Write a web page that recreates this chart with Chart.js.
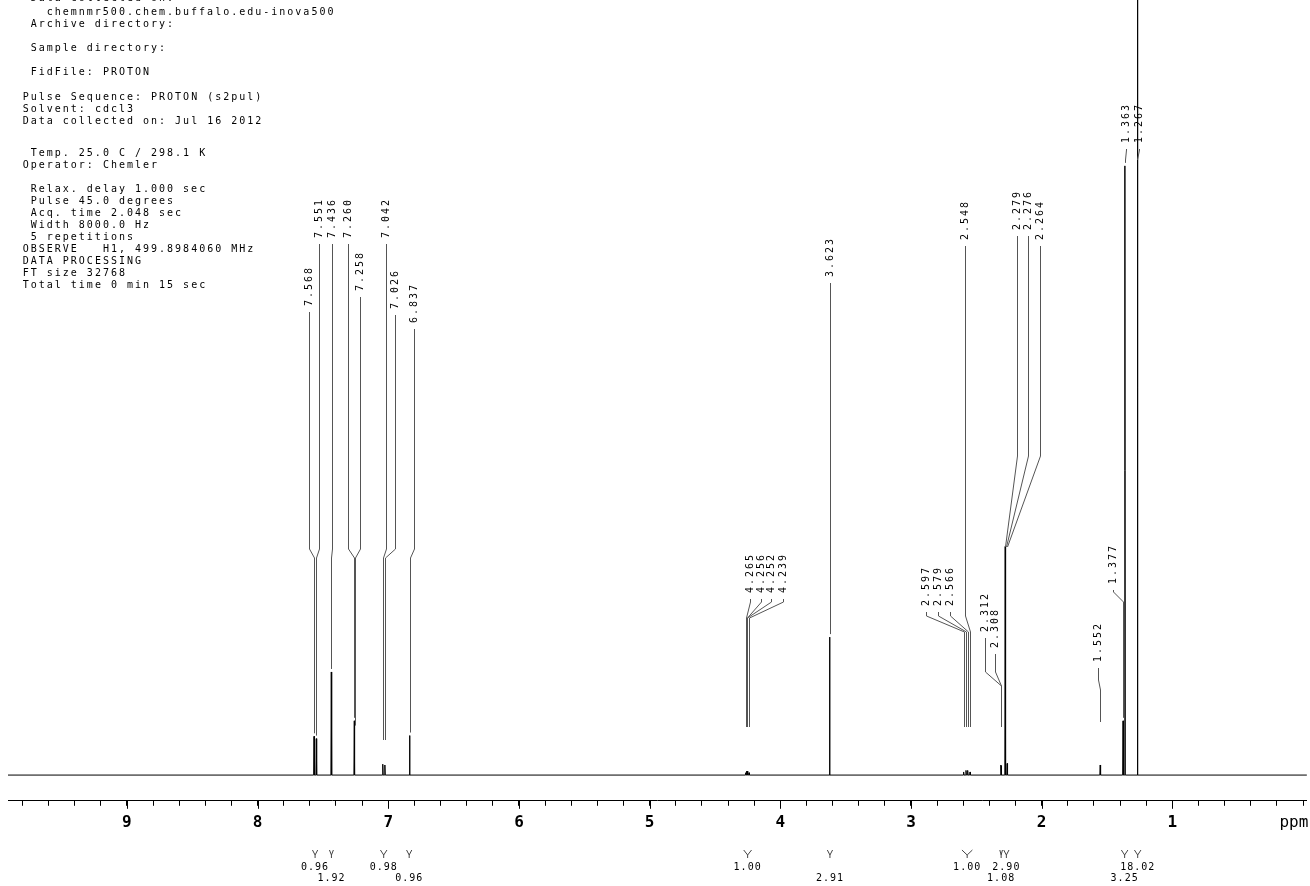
<!DOCTYPE html>
<html>
<head>
<meta charset="utf-8">
<script src="https://cdn.jsdelivr.net/npm/chart.js@4.4.1/dist/chart.umd.min.js"></script>
<style>
  html, body { margin: 0; padding: 0; background: #fff; }
  #wrap { width: 1310px; height: 886px; }
</style>
</head>
<body>
<div id="wrap"><canvas id="nmrChart" width="1310" height="886"></canvas></div>
<script>
// peak positions (ppm) and heights (relative intensity, 1.363 line ~ 79)
const peakShifts = [7.568, 7.551, 7.436, 7.260, 7.258, 7.042, 7.026, 6.837,
  4.265, 4.256, 4.252, 4.239, 3.623,
  2.597, 2.579, 2.566, 2.548, 2.312, 2.308, 2.279, 2.276, 2.264,
  1.552, 1.377, 1.363, 1.267];
const peakHeights = [5.0, 4.7, 13.3, 7.0, 6.0, 1.4, 1.3, 5.1,
  0.3, 0.5, 0.5, 0.3, 17.8,
  0.4, 0.6, 0.6, 0.4, 1.3, 1.2, 29.5, 28.1, 1.5,
  1.3, 7.0, 78.6, 115];

// integral regions (ppm) and their values
const integralFrom = [7.58, 7.45, 7.06, 6.86, 4.28, 3.64, 2.61, 2.32, 2.29, 1.39, 1.29];
const integralTo = [7.54, 7.42, 7.01, 6.82, 4.22, 3.60, 2.53, 2.30, 2.25, 1.34, 1.24];
const integralValues = ['0.96', '1.92', '0.98', '0.96', '1.00', '2.91', '1.00', '1.08', '2.90', '3.25', '18.02'];

const axisLabels = [9, 8, 7, 6, 5, 4, 3, 2, 1];

const headerLines = [
  [1, 'Data collected on:', -2],
  [3, 'chemnmr500.chem.buffalo.edu-inova500', 12.5],
  [1, 'Archive directory:', 24],
  [1, 'Sample directory:', 48],
  [1, 'FidFile: PROTON', 72],
  [0, 'Pulse Sequence: PROTON (s2pul)', 97],
  [0, 'Solvent: cdcl3', 109],
  [0, 'Data collected on: Jul 16 2012', 121],
  [1, 'Temp. 25.0 C / 298.1 K', 153],
  [0, 'Operator: Chemler', 165],
  [1, 'Relax. delay 1.000 sec', 189],
  [1, 'Pulse 45.0 degrees', 201],
  [1, 'Acq. time 2.048 sec', 213],
  [1, 'Width 8000.0 Hz', 225],
  [1, '5 repetitions', 237],
  [0, 'OBSERVE   H1, 499.8984060 MHz', 249],
  [0, 'DATA PROCESSING', 261],
  [0, 'FT size 32768', 273],
  [0, 'Total time 0 min 15 sec', 285]
];

// leader layout per peak label: text bottom, bend start, bend end, lowest end, label x offset
const leaders = [
  [310, 549, 558, 740, -5], [242, 549, 558, 740, 3], [242, 549, 558, 740, 1], [242, 549, 558, 740, -6],
  [295, 549, 558, 740, 5], [242, 549, 558, 740, 3], [313, 549, 558, 740, 10], [327, 549, 558, 740, 4],
  [597, 602, 618, 727, 4], [597, 602, 618, 727, 14], [597, 602, 618, 727, 24], [597, 602, 618, 727, 34],
  [281, 600, 610, 640, 0],
  [610, 616, 632, 727, -38], [610, 616, 632, 727, -28], [610, 616, 632, 727, -18], [244, 616, 632, 727, -5],
  [636, 672, 686, 727, -16], [652, 672, 686, 727, -6],
  [234, 456, 547, 547, 12], [234, 456, 547, 547, 22], [244, 456, 547, 547, 33],
  [666, 680, 690, 722, -2], [588, 592, 602, 720, -10],
  [147, 150, 160, 165, 1], [147, 150, 160, 165, 2]
];

const MONO = '"DejaVu Sans Mono", "Liberation Mono", monospace';

// spectrum line: narrow spikes on a flat baseline
const HALF = 0.003;
const spectrum = [{ x: 9.91, y: 0 }];
peakShifts.forEach((p, i) => {
  spectrum.push({ x: p + HALF, y: 0 });
  spectrum.push({ x: p, y: peakHeights[i] });
  spectrum.push({ x: p - HALF, y: 0 });
});
spectrum.push({ x: -0.03, y: 0 });

const annotate = {
  id: 'annotate',
  afterDraw(chart) {
    const ctx = chart.ctx;
    const xs = chart.scales.x;
    const ys = chart.scales.y;
    const area = chart.chartArea;
    ctx.save();
    ctx.fillStyle = '#000';
    ctx.strokeStyle = '#000';
    ctx.lineWidth = 1;

    // parameter block
    ctx.font = '10px ' + MONO;
    ctx.letterSpacing = '2px';
    ctx.textAlign = 'left';
    ctx.textBaseline = 'middle';
    headerLines.forEach(([ind, txt, y]) => ctx.fillText(txt, 22.7 + ind * 8, y));

    // longer ticks at whole ppm
    ctx.beginPath();
    axisLabels.forEach(v => {
      const x = Math.round(xs.getPixelForValue(v)) + 0.5;
      ctx.moveTo(x, area.bottom);
      ctx.lineTo(x, area.bottom + 8);
    });
    ctx.stroke();

    // 'ppm'
    ctx.letterSpacing = '0px';
    ctx.font = '16px ' + MONO;
    ctx.textAlign = 'center';
    ctx.fillText('ppm', area.right - 13, area.bottom + 22);

    // peak labels with leaders
    ctx.font = '10px ' + MONO;
    ctx.letterSpacing = '2px';
    ctx.textAlign = 'left';
    ctx.textBaseline = 'middle';
    peakShifts.forEach((p, i) => {
      const [tb, b1, b2, cap, dx] = leaders[i];
      const px = xs.getPixelForValue(p);
      const top = ys.getPixelForValue(peakHeights[i]);
      const end = Math.max(b2, Math.min(cap, top - 3));
      const x0 = Math.round(px + dx) + 0.5;
      const x1 = Math.round(px) + 0.5;
      ctx.beginPath();
      ctx.moveTo(x0, tb + 2);
      ctx.lineTo(x0, b1);
      ctx.lineTo(x1, b2);
      ctx.lineTo(x1, end);
      ctx.strokeStyle = '#555';
      ctx.stroke();
      ctx.save();
      ctx.translate(x0, tb - 4);
      ctx.rotate(-Math.PI / 2);
      ctx.fillText(p.toFixed(3), 0, 0);
      ctx.restore();
    });

    // integral marks and values
    ctx.strokeStyle = '#444';
    ctx.font = '10px ' + MONO;
    ctx.letterSpacing = '1px';
    ctx.textAlign = 'center';
    integralValues.forEach((val, i) => {
      const a = xs.getPixelForValue(integralFrom[i]);
      const b = xs.getPixelForValue(integralTo[i]);
      const m = (a + b) / 2;
      ctx.beginPath();
      ctx.moveTo(a, 850);
      ctx.lineTo(m, 855);
      ctx.lineTo(b, 850);
      ctx.moveTo(m, 855);
      ctx.lineTo(m, 858);
      ctx.stroke();
      ctx.fillText(val, m, i % 2 === 0 ? 867 : 878);
    });
    ctx.restore();
  }
};

new Chart(document.getElementById('nmrChart'), {
  type: 'line',
  data: {
    datasets: [{
      label: 'PROTON',
      data: spectrum,
      borderColor: '#000',
      borderWidth: 1,
      pointRadius: 0,
      tension: 0,
      fill: false
    }]
  },
  options: {
    responsive: false,
    animation: false,
    events: [],
    layout: { padding: { left: 8, right: 0, top: 0, bottom: 47 } },
    plugins: {
      legend: { display: false },
      tooltip: { enabled: false }
    },
    scales: {
      x: {
        type: 'linear',
        reverse: true,
        min: -0.03,
        max: 9.91,
        border: { display: true, color: '#000', width: 1 },
        grid: { drawOnChartArea: false, drawTicks: true, tickLength: 5, color: '#000' },
        ticks: {
          stepSize: 0.2,
          includeBounds: false,
          autoSkip: false,
          maxRotation: 0,
          padding: 7,
          color: '#000',
          font: { family: MONO, size: 16, weight: 'bold' },
          callback: (v) => {
            const r = Math.round(v);
            return (Math.abs(v - r) < 1e-6 && axisLabels.includes(r)) ? String(r) : '';
          }
        }
      },
      y: {
        display: false,
        min: -3.32,
        max: 100
      }
    }
  },
  plugins: [annotate]
});
</script>
</body>
</html>
